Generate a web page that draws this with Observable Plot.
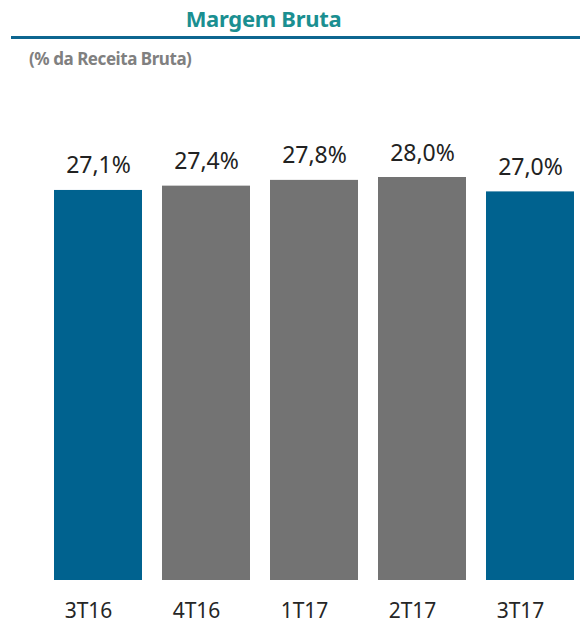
<!DOCTYPE html>
<html>
<head>
<meta charset="utf-8">
<script src="https://cdn.jsdelivr.net/npm/d3@7"></script>
<script src="https://cdn.jsdelivr.net/npm/@observablehq/plot@0.6"></script>
<style>
  html, body { margin: 0; padding: 0; background: #fff; }
  #wrap { position: relative; width: 580px; height: 625px; overflow: hidden; font-family: "Noto Sans", sans-serif; }
  #head { position: relative; width: 580px; height: 70px; }
  #title { position: absolute; left: 0; top: 7px; width: 527px; text-align: center; font-size: 22px; line-height: 22px; font-weight: bold; color: #1a8f91; letter-spacing: -0.3px; }
  #rule { position: absolute; left: 11px; top: 36px; width: 569px; height: 3px; background: #0d6690; }
  #sub { position: absolute; left: 29px; top: 50px; font-size: 17px; line-height: 17px; font-weight: bold; color: #808080; letter-spacing: -0.45px; white-space: nowrap; }
  #chart svg { display: block; }
</style>
</head>
<body>
<div id="wrap">
  <div id="head">
    <div id="title">Margem Bruta</div>
    <div id="rule"></div>
    <div id="sub">(% da Receita Bruta)</div>
  </div>
  <div id="chart"></div>
</div>
<script>
const quarters = ["3T16", "4T16", "1T17", "2T17", "3T17"];
const margins = [27.1, 27.4, 27.8, 28.0, 27.0];
const highlighted = ["3T16", "3T17"];

const data = quarters.map((q, i) => ({
  q,
  v: margins[i],
  group: highlighted.includes(q) ? "destaque" : "outros"
}));

const chart = Plot.plot({
  width: 580,
  height: 555,
  marginTop: 107,
  marginBottom: 45,
  marginLeft: 44,
  marginRight: 0,
  style: { fontFamily: "Noto Sans", background: "white" },
  x: { domain: quarters, range: [44, 585], paddingInner: 0.185, paddingOuter: 0.0924, label: null },
  y: { domain: [0, 28], axis: null },
  color: { domain: ["destaque", "outros"], range: ["#00628f", "#737373"] },
  marks: [
    Plot.barY(data, { x: "q", y: "v", fill: "group" }),
    Plot.text(data, {
      x: "q",
      y: "v",
      text: d => d.v.toFixed(1).replace(".", ",") + "%",
      dy: -17,
      lineAnchor: "bottom",
      fontSize: 23,
      fill: "#222"
    }),
    Plot.axisX({ tickSize: 0, tickPadding: 23, fontSize: 21, dx: -10, fill: "#262626", label: null })
  ]
});
document.getElementById("chart").appendChild(chart);
</script>
</body>
</html>
